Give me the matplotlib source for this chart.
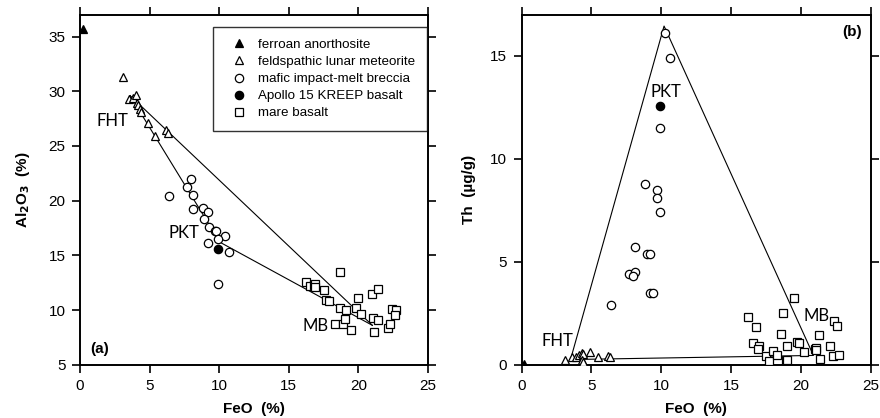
"""
FeO vs Al2O3 and FeO vs Th for lunar samples, with FHT-PKT-MB mixing lines
"""

import numpy as np
import matplotlib
matplotlib.use('Agg')
import matplotlib.pyplot as plt

plt.rcParams['font.family'] = ['Liberation Sans', 'DejaVu Sans']

# ---- panel (a): FeO vs Al2O3 ----
fan_feo_a = [0.2]
fan_al = [35.7]

flm_feo_a = [3.1, 3.5, 3.8, 4.0, 4.1, 4.2, 4.3, 4.4, 4.9, 5.4, 6.2, 6.3]
flm_al = [31.3, 29.3, 29.4, 29.7, 28.9, 28.7, 28.4, 28.1, 27.1, 25.9, 26.5, 26.2]

mimb_feo_a = [8.0, 7.7, 8.1, 6.4, 8.1, 8.8, 9.2, 8.9, 9.3, 9.7, 9.8, 10.4, 9.9, 9.2, 10.7, 9.9]
mimb_al = [22.0, 21.25, 20.5, 20.4, 19.2, 19.3, 19.0, 18.3, 17.6, 17.2, 17.2, 16.8, 16.5, 16.1, 15.3, 12.4]

kreep_feo_a = [9.9]
kreep_al = [15.55]

mare_feo_a = [16.2, 16.5, 16.8, 16.9, 16.9, 17.5, 17.7, 17.9, 18.7, 18.7, 19.1, 18.3, 18.9, 19.0,
              19.5, 19.8, 20.0, 20.2, 21.0, 21.4, 21.05, 21.4, 21.1, 22.1, 22.3, 22.4, 22.7, 22.6]
mare_al = [12.6, 12.2, 12.3, 12.4, 12.1, 11.8, 10.9, 10.8, 13.5, 10.2, 10.0, 8.7, 8.7, 9.2,
           8.2, 10.2, 11.1, 9.6, 11.5, 11.9, 9.3, 9.1, 8.0, 8.4, 8.7, 10.1, 10.0, 9.5]

# end members (FHT, PKT, MB)
end_feo_a = [3.6, 10.05, 21.0]
end_al = [29.6, 16.2, 8.6]

# ---- panel (b): FeO vs Th ----
fan_feo_b = [0.2]
fan_th = [0.05]

flm_feo_b = [3.1, 3.6, 3.9, 4.1, 4.3, 4.4, 4.3, 4.4, 4.9, 5.5, 6.2, 6.3]
flm_th = [0.22, 0.38, 0.35, 0.45, 0.55, 0.50, 0.25, 0.15, 0.62, 0.35, 0.42, 0.38]

mimb_feo_b = [10.3, 10.6, 9.9, 8.8, 9.7, 9.7, 9.9, 8.1, 9.0, 9.2, 7.7, 8.1, 8.0, 9.2, 9.4, 6.4]
mimb_th = [16.1, 14.9, 11.5, 8.8, 8.5, 8.1, 7.4, 5.7, 5.4, 5.4, 4.4, 4.5, 4.3, 3.5, 3.5, 2.9]

kreep_feo_b = [9.9]
kreep_th = [12.55]

mare_feo_b = [16.2, 18.7, 16.8, 18.6, 16.6, 17.0, 16.9, 17.5, 17.7, 18.0, 18.3, 19.0, 18.9, 19.0,
              19.5, 19.7, 19.9, 20.2, 21.0, 21.1, 21.05, 21.3, 21.4, 22.1, 22.4, 22.6, 22.3, 22.7]
mare_th = [2.3, 2.5, 1.85, 1.5, 1.05, 0.9, 0.75, 0.4, 0.2, 0.65, 0.45, 0.9, 0.25, 0.25,
           3.25, 1.1, 1.05, 0.6, 0.75, 0.8, 0.7, 1.45, 0.3, 0.9, 2.1, 1.9, 0.4, 0.45]

end_feo_b = [3.5, 10.2, 20.9]
end_th = [0.25, 16.45, 0.45]

fig = plt.figure(figsize=(8.8, 4.18), dpi=100)
ax1 = fig.add_axes([0.0909, 0.1275, 0.3955, 0.8373])
ax2 = fig.add_axes([0.5928, 0.1275, 0.3966, 0.8373])

open_style = dict(linestyle='none', mfc='white', mec='black', mew=0.9)
solid_style = dict(linestyle='none', mfc='black', mec='black', mew=0.9)


def draw_points(ax, fan, flm, mimb, kreep, mare):
    ax.plot(*fan, marker='^', ms=6, label='ferroan anorthosite', **solid_style, zorder=4)
    ax.plot(*flm, marker='^', ms=6, label='feldspathic lunar meteorite', **open_style, zorder=4)
    ax.plot(*mimb, marker='o', ms=6, label='mafic impact-melt breccia', **open_style, zorder=4)
    ax.plot(*kreep, marker='o', ms=6, label='Apollo 15 KREEP basalt', **solid_style, zorder=5)
    ax.plot(*mare, marker='s', ms=5.2, label='mare basalt', **open_style, zorder=4)


def style_axes(ax):
    ax.tick_params(direction='out', length=5.5, width=1.2, labelsize=11,
                   top=True, right=True, labeltop=False, labelright=False, pad=5)
    for sp in ax.spines.values():
        sp.set_linewidth(1.4)
    ax.set_xlim(0, 25)
    ax.set_xticks([0, 5, 10, 15, 20, 25])
    ax.set_xlabel('FeO  (%)', fontsize=11, fontweight='bold', labelpad=6)


mix_font = dict(family=['Lato', 'DejaVu Sans'], fontsize=12, ha='center', va='center')

# (a) mixing lines: FHT-MB, FHT-PKT-MB
ax1.plot([end_feo_a[0], end_feo_a[2]], [end_al[0], end_al[2]], color='black', lw=0.8, zorder=2)
ax1.plot(end_feo_a, end_al, color='black', lw=0.8, zorder=2)
draw_points(ax1, (fan_feo_a, fan_al), (flm_feo_a, flm_al), (mimb_feo_a, mimb_al),
            (kreep_feo_a, kreep_al), (mare_feo_a, mare_al))
style_axes(ax1)
ax1.set_ylim(5, 37)
ax1.set_yticks([5, 10, 15, 20, 25, 30, 35])
ax1.set_ylabel('Al$_\\mathbf{2}$O$_\\mathbf{3}$  (%)', fontsize=11, fontweight='bold', labelpad=12)
ax1.text(2.3, 27.3, 'FHT', **mix_font)
ax1.text(7.45, 17.0, 'PKT', **mix_font)
ax1.text(16.9, 8.55, 'MB', **mix_font)
ax1.text(0.055, 0.045, '(a)', transform=ax1.transAxes, fontsize=11, fontweight='bold',
         ha='center', va='center')
leg = ax1.legend(loc='upper right', bbox_to_anchor=(0.996, 0.966), borderaxespad=0,
                 fontsize=9.6, frameon=True, fancybox=False, edgecolor='black',
                 labelspacing=0.36, handletextpad=0.33, borderpad=0.9, handlelength=2.1)
leg.get_frame().set_linewidth(1.0)

# (b) mixing triangle FHT-PKT-MB
ax2.plot(end_feo_b + end_feo_b[:1], end_th + end_th[:1], color='black', lw=0.8, zorder=2)
draw_points(ax2, (fan_feo_b, fan_th), (flm_feo_b, flm_th), (mimb_feo_b, mimb_th),
            (kreep_feo_b, kreep_th), (mare_feo_b, mare_th))
style_axes(ax2)
ax2.set_ylim(0, 17)
ax2.set_yticks([0, 5, 10, 15])
ax2.set_ylabel('Th  (µg/g)', fontsize=11, fontweight='bold', labelpad=10)
ax2.text(10.35, 13.25, 'PKT', **mix_font)
ax2.text(2.55, 1.17, 'FHT', **mix_font)
ax2.text(21.1, 2.35, 'MB', **mix_font)
ax2.text(0.947, 0.952, '(b)', transform=ax2.transAxes, fontsize=11, fontweight='bold',
         ha='center', va='center')

plt.savefig('out.png', dpi=100)
plt.close()
